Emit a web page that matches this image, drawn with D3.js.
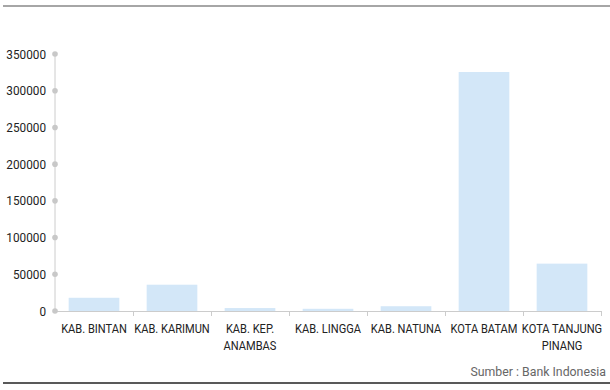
<!DOCTYPE html>
<html><head><meta charset="utf-8">
<script src="https://cdn.jsdelivr.net/npm/d3@7"></script>
<style>body{margin:0;background:#fff}svg{display:block}text{font-family:Roboto,sans-serif}</style>
</head><body><svg id="c" width="610" height="390"></svg>
<script>
const categories = ["KAB. BINTAN","KAB. KARIMUN","KAB. KEP. ANAMBAS","KAB. LINGGA","KAB. NATUNA","KOTA BATAM","KOTA TANJUNG PINANG"];
const labelLines = [["KAB. BINTAN"],["KAB. KARIMUN"],["KAB. KEP.","ANAMBAS"],["KAB. LINGGA"],["KAB. NATUNA"],["KOTA BATAM"],["KOTA TANJUNG","PINANG"]];
const values = [18000, 35800, 4000, 3000, 6500, 325500, 64500];
const yTicks = [0,50000,100000,150000,200000,250000,300000,350000];
const source = "Sumber : Bank Indonesia";

const svg = d3.select("#c");
const x0 = 55, x1 = 601, yTop = 54, yBot = 311;
const x = d3.scaleBand().domain(categories).range([x0, x1]).paddingInner(0.35).paddingOuter(0.175);
const y = d3.scaleLinear().domain([0, 350000]).range([yBot, yTop]);

svg.append("line").attr("x1",3).attr("x2",610).attr("y1",6).attr("y2",6).attr("stroke","#a6a6a6").attr("stroke-width",2);
svg.append("line").attr("x1",3).attr("x2",610).attr("y1",383).attr("y2",383).attr("stroke","#595959").attr("stroke-width",2);

svg.append("line").attr("x1",x0).attr("x2",x0).attr("y1",yTop).attr("y2",yBot).attr("stroke","#cccccc").attr("stroke-width",1);
svg.append("line").attr("x1",x0).attr("x2",x1).attr("y1",yBot+0.5).attr("y2",yBot+0.5).attr("stroke","#cccccc").attr("stroke-width",1);
const step = x.step();
d3.range(1, categories.length+1).forEach(i=>{
  const xx = Math.round(x0 + i*step)+0.5;
  svg.append("line").attr("x1",xx).attr("x2",xx).attr("y1",yBot).attr("y2",yBot+5).attr("stroke","#cccccc");
});

const yg = svg.append("g");
yTicks.forEach(t=>{
  yg.append("circle").attr("cx",x0).attr("cy",y(t)).attr("r",2.8).attr("fill","#c8c8c8");
  yg.append("text").attr("transform",`translate(46,${y(t)}) scale(0.92,1)`).attr("dy","0.36em").attr("text-anchor","end")
    .attr("font-size",12.8).attr("fill","#222").text(t);
});

svg.selectAll("rect.bar").data(values).enter().append("rect")
  .attr("x",(d,i)=>x(categories[i])).attr("width",x.bandwidth())
  .attr("y",d=>y(d)).attr("height",d=>yBot-y(d)).attr("fill","#d3e7f8");

labelLines.forEach((lines,i)=>{
  const cx = x(categories[i]) + x.bandwidth()/2;
  const t = svg.append("text").attr("transform",`translate(${cx},333) scale(0.88,1)`).attr("text-anchor","middle").attr("font-size",12.6).attr("fill","#222");
  lines.forEach((l,j)=>t.append("tspan").attr("x",0).attr("y", j*17).text(l));
});

svg.append("text").attr("transform","translate(606,376) scale(0.92,1)").attr("text-anchor","end").attr("font-size",13.4).attr("fill","#666").text(source);
</script></body></html>
